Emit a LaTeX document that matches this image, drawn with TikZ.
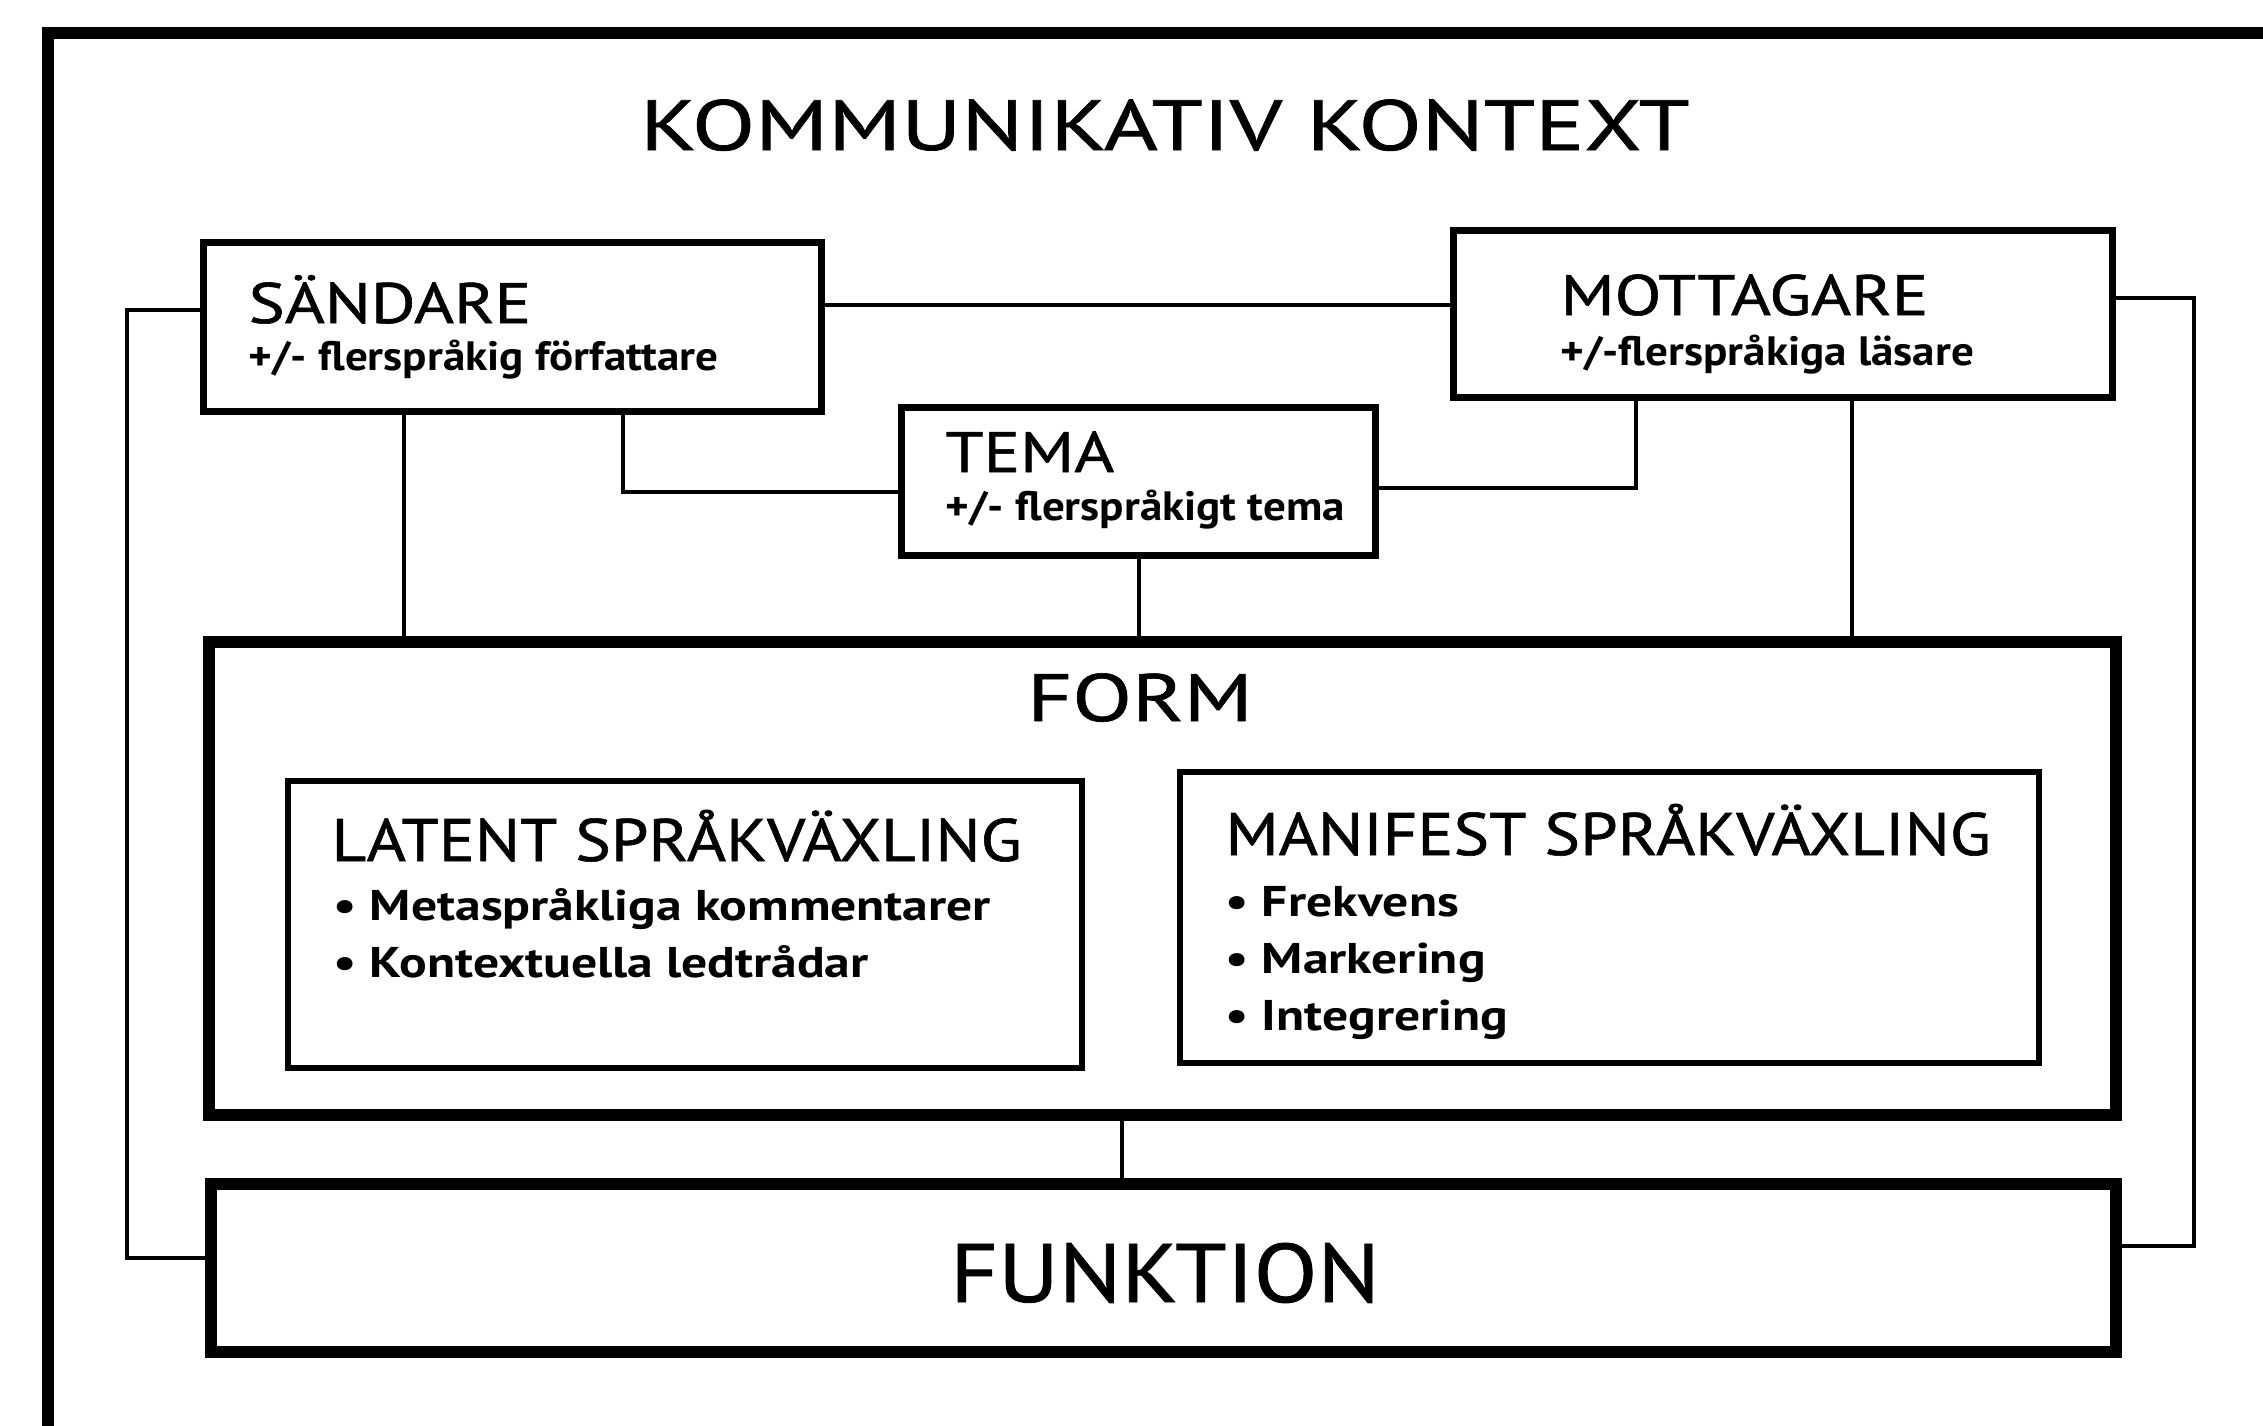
\documentclass[tikz,border=0pt]{standalone}
\usepackage{fontspec}
\setmainfont{PT Sans}
\newfontfamily\titlefont[FakeStretch=1.3,FakeBold=1]{PT Sans}
\newfontfamily\headfont[FakeStretch=1.2,FakeBold=1]{PT Sans}
\newfontfamily\boxfont[FakeStretch=1.12,FakeBold=1]{PT Sans}
\newfontfamily\subfont[FakeStretch=1.1]{PT Sans Bold}
\newfontfamily\itemfont[FakeStretch=1.2]{PT Sans Bold}

\begin{document}
\begin{tikzpicture}[x=1pt,y=-1pt,
	frame/.style={line width=12pt},
	box/.style={draw,line width=7pt,inner sep=0pt,outer sep=0pt},
	bigbox/.style={box,line width=12pt},
	conn/.style={line width=4.5pt},
	title/.style={anchor=base,font=\titlefont\fontsize{71}{80}\selectfont},
	head/.style={anchor=base west,font=\headfont\fontsize{57}{60}\selectfont},
	sub/.style={anchor=base west,font=\subfont\fontsize{41}{44}\selectfont},
	item/.style={anchor=base west,font=\itemfont\fontsize{43}{50}\selectfont},
	]
	\clip (0,0) rectangle (2263,1425);
	\fill[white] (0,0) rectangle (2263,1425);
	% outer frame, runs off the page at right and bottom
	\draw[frame] (48,33) rectangle (2290,1450);
	\node[title] (title) at (1165,150) {KOMMUNIKATIV KONTEXT};

	% boxes
	\node[box,minimum width=618pt,minimum height=169pt] (sandare) at (512,326.5) {};
	\node[box,minimum width=659pt,minimum height=167pt] (mottagare) at (1782.5,313.5) {};
	\node[box,minimum width=474pt,minimum height=148pt] (tema) at (1138,481) {};
	\node[bigbox,minimum width=1907pt,minimum height=473pt] (form) at (1162.5,878.5) {};
	\node[box,line width=6pt,minimum width=794pt,minimum height=287pt] (latent) at (685,924.5) {};
	\node[box,line width=6pt,minimum width=859pt,minimum height=291pt] (manifest) at (1609.5,917.5) {};
	\node[bigbox,minimum width=1905pt,minimum height=168pt] (funktion) at (1163.5,1268) {};

	% texts
	\node[head] (sandare-h) at (245,323) {SÄNDARE};
	\node[sub] (sandare-s) at (245,370) {+/- flerspråkig författare};
	\node[head] (mottagare-h) at (1557,315) {MOTTAGARE};
	\node[sub] (mottagare-s) at (1557,365) {+/-flerspråkiga läsare};
	\node[head] (tema-h) at (942,472) {TEMA};
	\node[sub] (tema-s) at (942,520) {+/- flerspråkigt tema};
	\node[title,font=\titlefont\fontsize{67}{70}\selectfont] (form-h) at (1140,721) {FORM};
	\node[head,font=\boxfont\fontsize{60}{64}\selectfont] (latent-h) at (328,861) {LATENT SPRÅKVÄXLING};
	\node[head,font=\boxfont\fontsize{60}{64}\selectfont] (manifest-h) at (1222,855) {MANIFEST SPRÅKVÄXLING};
	\foreach \txt [count=\i] in {Metaspråkliga kommentarer, Kontextuella ledtrådar}
		\node[item] (latent-\i) at (330,863+57*\i) {• \txt};
	\foreach \txt [count=\i] in {Frekvens, Markering, Integrering}
		\node[item] (manifest-\i) at (1222,859+57*\i) {• \txt};
	\node[title,font=\boxfont\fontsize{83}{90}\selectfont] (funktion-h) at (1165,1302) {FUNKTION};

	% connectors
	\draw[conn] (sandare.east |- 0,305) -- (mottagare.west |- 0,305);
	\draw[conn] (sandare.west |- 0,310) -- (127,310) -- (127,1258) -- (funktion.west |- 0,1258);
	\draw[conn] (mottagare.east |- 0,298) -- (2194,298) -- (2194,1246) -- (funktion.east |- 0,1246);
	\draw[conn] (sandare.south -| 623,0) -- (623,492) -- (tema.west |- 0,492);
	\draw[conn] (mottagare.south -| 1636,0) -- (1636,488) -- (tema.east |- 0,488);
	\draw[conn] (sandare.south -| 404,0) -- (form.north -| 404,0);
	\draw[conn] (tema.south -| 1139,0) -- (form.north -| 1139,0);
	\draw[conn] (mottagare.south -| 1852,0) -- (form.north -| 1852,0);
	\draw[conn] (form.south -| 1122,0) -- (funktion.north -| 1122,0);
\end{tikzpicture}
\end{document}
